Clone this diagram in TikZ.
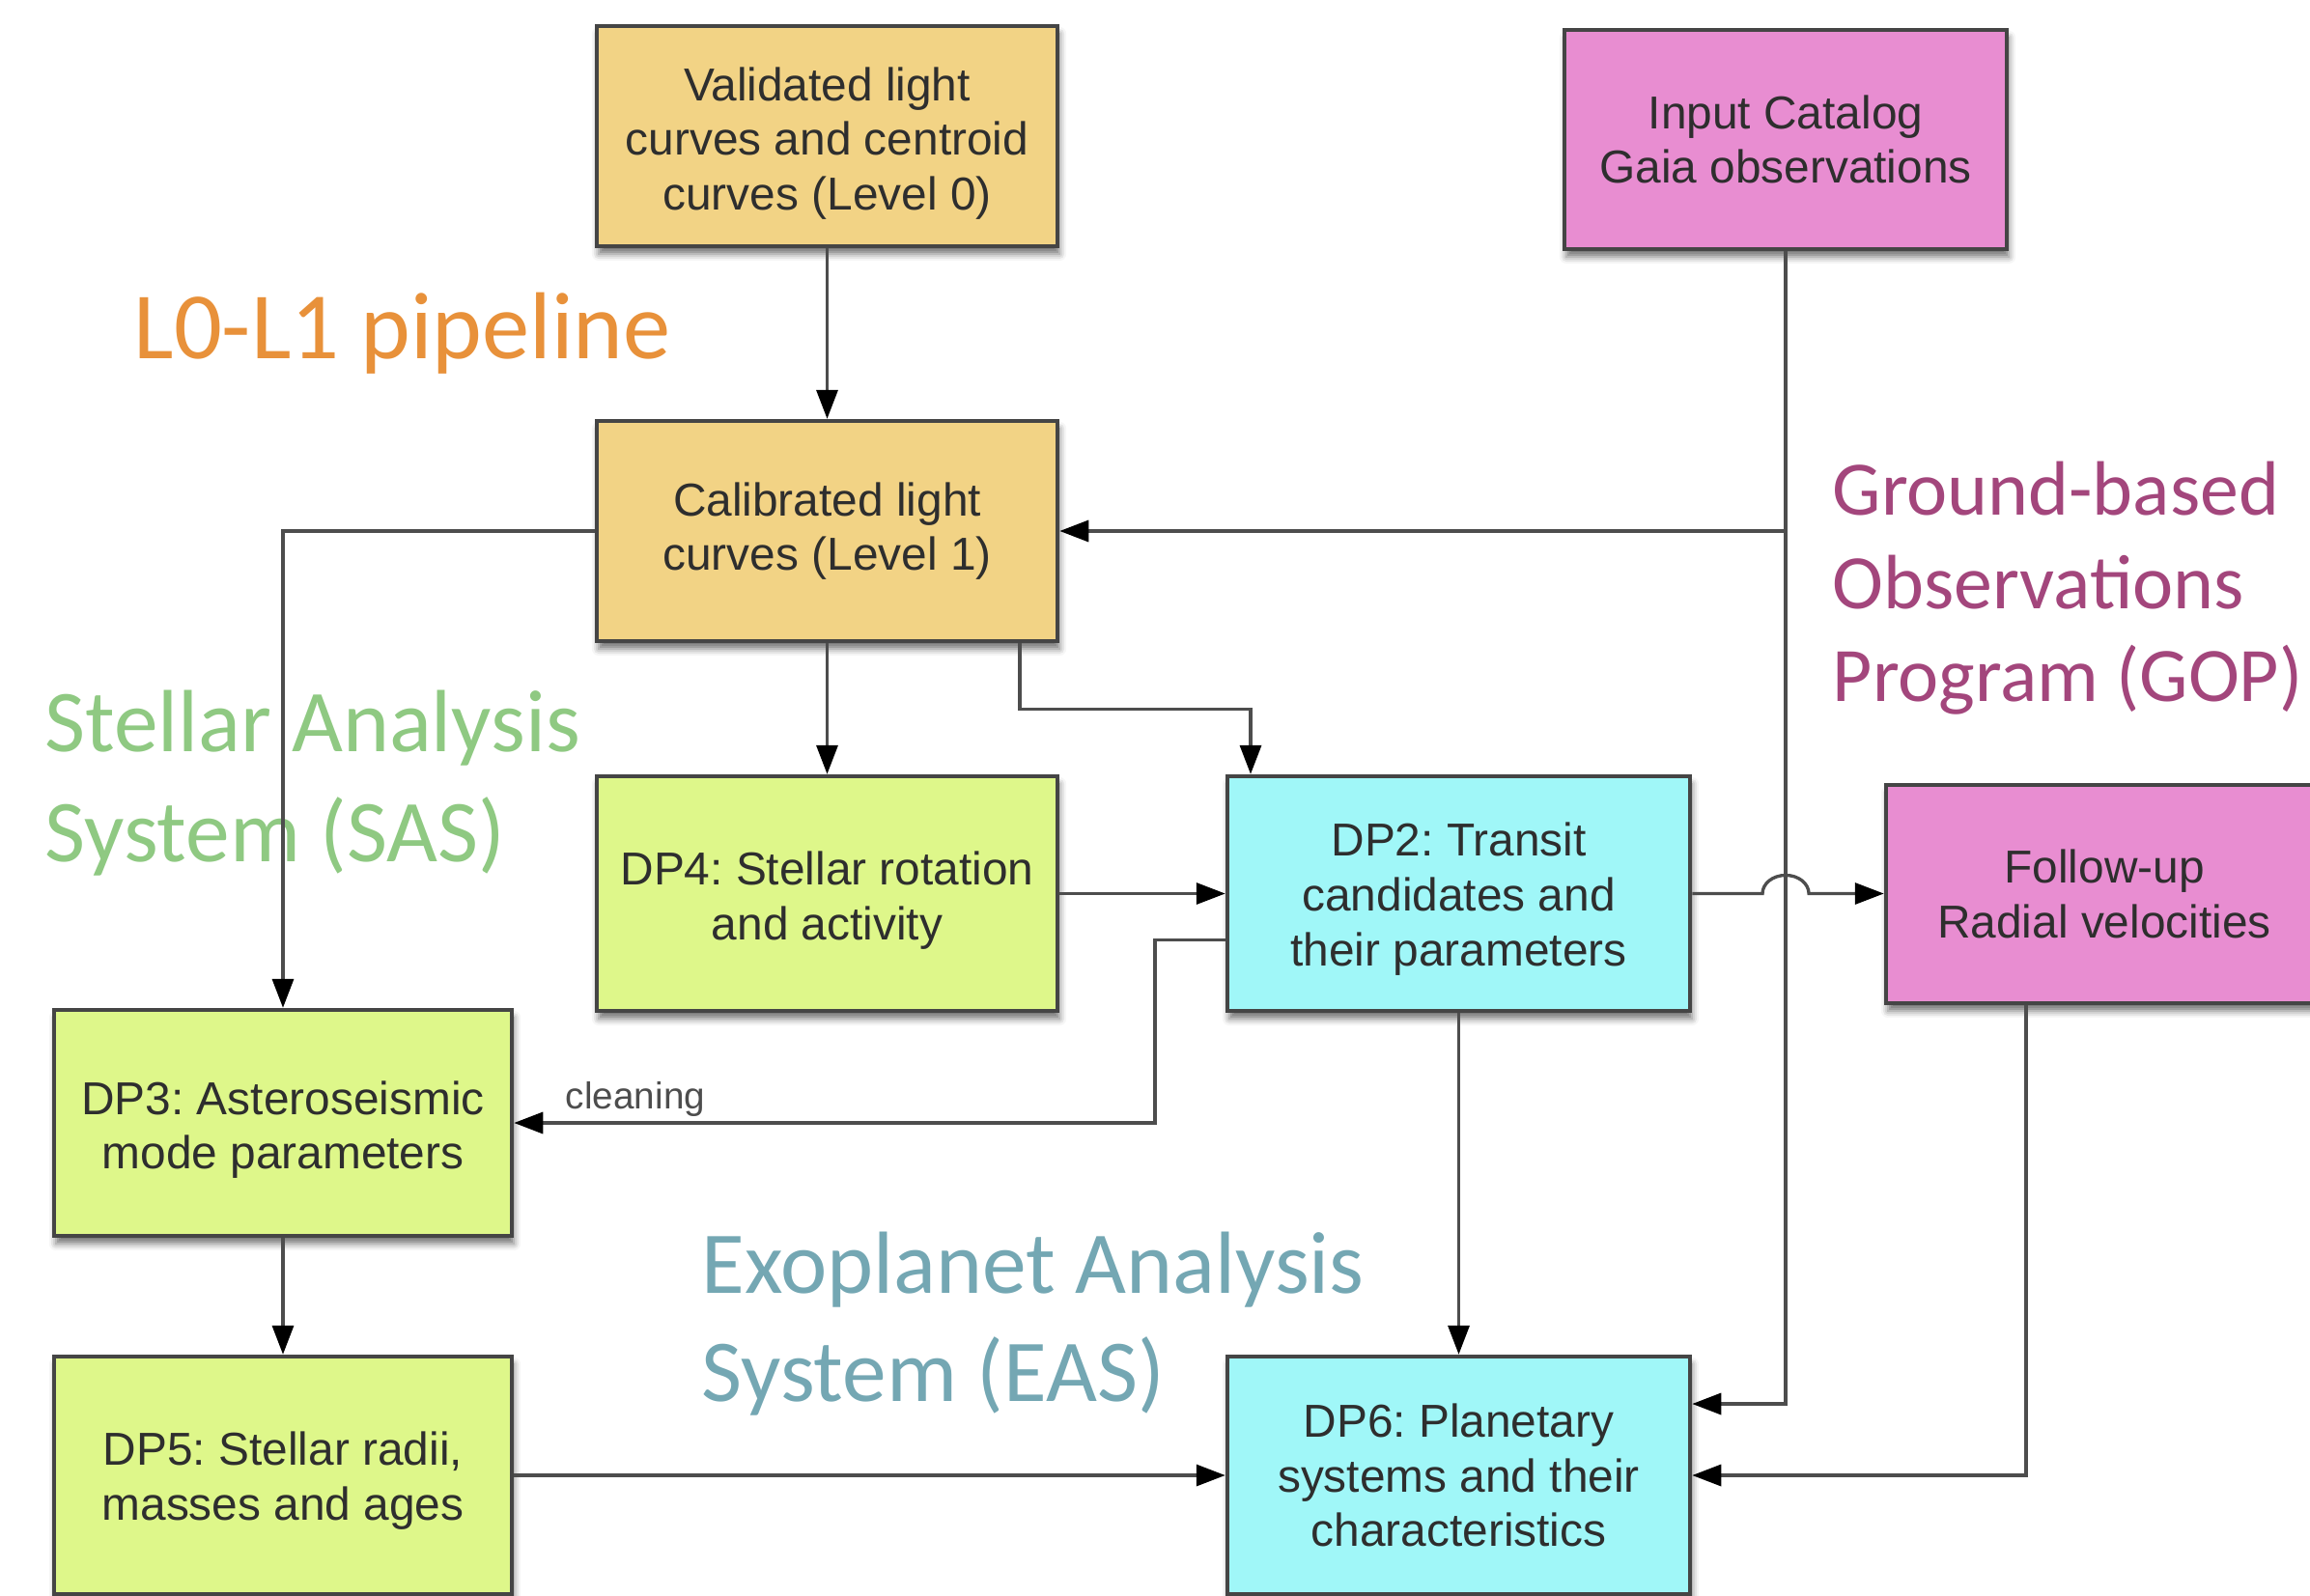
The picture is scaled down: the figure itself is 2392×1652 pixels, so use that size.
\documentclass[tikz,border=0pt]{standalone}
\usepackage{fontspec}
\setmainfont{Liberation Sans}
\newfontfamily\labfont{Carlito}
\usetikzlibrary{arrows.meta,shadows.blur,calc}
\definecolor{orgbox}{HTML}{F2D385}
\definecolor{pinkbox}{HTML}{E88DD1}
\definecolor{cyanbox}{HTML}{A0F7F8}
\definecolor{greenbox}{HTML}{DEF78A}
\definecolor{bordergray}{HTML}{454545}
\definecolor{linegray}{HTML}{4D4D4D}
\definecolor{boxtext}{HTML}{2E2E2E}
\definecolor{laborange}{HTML}{E8913A}
\definecolor{labgreen}{HTML}{8FC982}
\definecolor{labteal}{HTML}{74A7B3}
\definecolor{labpurple}{HTML}{A3467C}
\tikzset{
  box/.style={draw=bordergray, line width=1.2pt, rectangle, align=center,
    text=boxtext, font=\frenchspacing\fontsize{13.6}{16.1}\selectfont, inner sep=2pt,
    blur shadow={shadow xshift=0.02cm, shadow yshift=-0.08cm, shadow blur radius=0.07cm, shadow opacity=55}},
  arr/.style={draw=linegray, line width=0.95pt, -{Triangle[length=0.3cm,width=0.22cm,color=black]}},
  biglab/.style={anchor=base west, inner sep=0pt, font=\labfont\fontsize{26}{31}\selectfont},
  gop/.style={anchor=base west, inner sep=0pt, text=labpurple, font=\labfont\fontsize{22.7}{27}\selectfont},
  small/.style={text=linegray, font=\fontsize{11}{13}\selectfont, inner sep=0pt}
}
\begin{document}
\begin{tikzpicture}[x=0.01cm, y=-0.01cm]
\useasboundingbox (0,0) rectangle (2392,1652);

% boxes
\node[box, fill=orgbox, minimum width=4.77cm, minimum height=2.28cm] (val) at (856.5,141) {\rule{0pt}{14pt}Validated light\\curves and centroid\\curves (Level 0)};
\node[box, fill=pinkbox, minimum width=4.58cm, minimum height=2.27cm] (inp) at (1849,144.5) {Input Catalog\\Gaia observations};
\node[box, fill=orgbox, minimum width=4.77cm, minimum height=2.28cm] (cal) at (856.5,550) {Calibrated light\\curves (Level 1)};
\node[box, fill=greenbox, minimum width=4.77cm, minimum height=2.43cm] (dp4) at (856.5,925.5) {\rule{0pt}{14pt}DP4: Stellar rotation\\and activity};
\node[box, fill=cyanbox, minimum width=4.79cm, minimum height=2.43cm] (dp2) at (1510.5,925.5) {\rule{0pt}{13pt}DP2: Transit\\candidates and\\their parameters};
\node[box, fill=pinkbox, minimum width=4.52cm, minimum height=2.26cm] (fol) at (2179,926) {Follow-up\\Radial velocities};
\node[box, fill=greenbox, minimum width=4.74cm, minimum height=2.34cm] (dp3) at (293,1163) {\rule{0pt}{14pt}DP3: Asteroseismic\\mode parameters};
\node[box, fill=greenbox, minimum width=4.74cm, minimum height=2.46cm] (dp5) at (293,1528) {\rule{0pt}{13pt}DP5: Stellar radii,\\masses and ages};
\node[box, fill=cyanbox, minimum width=4.79cm, minimum height=2.46cm] (dp6) at (1510.5,1528) {DP6: Planetary\\systems and their\\characteristics};

% group labels
\node[biglab, text=laborange, font=\labfont\fontsize{28}{34}\selectfont] (l0) at (138,372) {L0-L1 pipeline};
\node[biglab, text=labgreen] (sas1) at (46,778) {Stellar Analysis};
\node[biglab, text=labgreen] (sas2) at (46,892) {System (SAS)};
\node[biglab, text=labteal] (eas1) at (726,1339) {Exoplanet Analysis};
\node[biglab, text=labteal] (eas2) at (726,1451) {System (EAS)};
\node[gop] (gop1) at (1897,533) {Ground-based};
\node[gop] (gop2) at (1897,630) {Observations};
\node[gop] (gop3) at (1897,726) {Program (GOP)};

% connectors
\draw[arr] (val) -- (cal);
\draw[arr] (inp.south) |- ($(dp6.east)+(0,-74)$);
\draw[arr] (inp.south |- cal.east) -- (cal.east);
\draw[arr] (cal.west) -| (dp3.north);
\draw[arr] (cal.south) -- (dp4.north);
\draw[arr] ($(cal.south)+(199.5,0)$) -- ++(0,68) -| ($(dp2.north)+(-215.5,0)$);
\draw[arr] (dp4.east) -- (dp2.west);
\coordinate (cbend) at (1196,1163);
\draw[arr] ($(dp2.west)+(0,48)$) -| (cbend) -- (dp3.east);
\node[small] (cln) at (658,1138) {cleaning};
\draw[arr] (dp2.east) -- ($(dp2.east -| inp.south)+(-24,0)$) arc[start angle=180, end angle=0, x radius=0.24cm, y radius=0.19cm] -- (fol.west |- dp2.east);
\draw[arr] (dp2.south) -- (dp6.north);
\draw[arr] (dp3.south) -- (dp5.north);
\draw[arr] (dp5.east) -- (dp6.west);
\draw[arr] ($(fol.south)+(-81,0)$) |- (dp6.east);
\end{tikzpicture}
\end{document}
